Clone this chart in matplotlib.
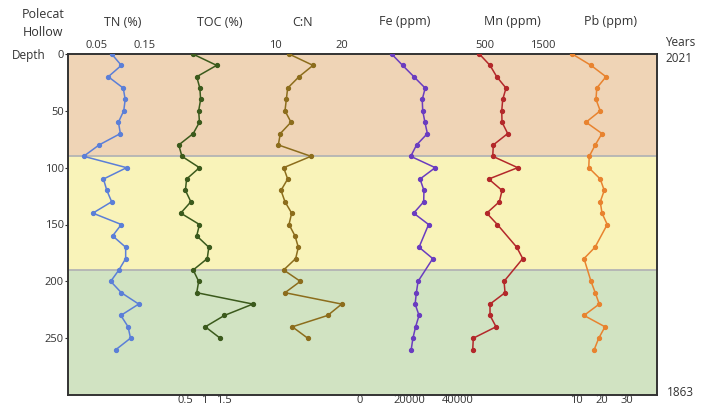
import matplotlib.pyplot as plt
import numpy as np

plt.rcParams['font.family'] = ['Open Sans', 'DejaVu Sans']

# depth (cm) of samples
depth_full = np.arange(0, 270, 10)                      # 0..260
depth_26 = np.arange(0, 260, 10)                        # 0..250
depth_metal = np.array([0, 10, 20, 30, 40, 50, 60, 70, 80, 90, 100, 110, 120,
                        130, 140, 150, 170, 180, 200, 210, 220, 230, 240, 250,
                        260])

tn = [0.081, 0.101, 0.074, 0.105, 0.109, 0.106, 0.095, 0.099, 0.055, 0.023,
      0.112, 0.064, 0.071, 0.081, 0.042, 0.101, 0.083, 0.110, 0.110, 0.096,
      0.079, 0.101, 0.137, 0.100, 0.115, 0.120, 0.090]
toc = [0.70, 1.31, 0.80, 0.88, 0.90, 0.85, 0.87, 0.71, 0.34, 0.42, 0.87, 0.54,
       0.51, 0.65, 0.39, 0.87, 0.80, 1.11, 1.07, 0.71, 0.85, 0.80, 2.24, 1.51,
       1.02, 1.40]
cn = [12.1, 15.7, 13.6, 11.9, 11.7, 11.5, 12.4, 10.8, 10.5, 15.4, 11.3, 11.9,
      10.9, 11.5, 12.5, 12.1, 13.0, 13.5, 13.1, 11.3, 13.8, 11.5, 20.0, 17.9,
      12.6, 14.9]
fe = [12900, 17400, 22000, 26600, 25400, 25600, 26500, 27500, 23100, 20700,
      30700, 24500, 26100, 26000, 21900, 28000, 24100, 29700, 23700, 23000,
      22500, 24100, 22700, 21600, 20900]
mn = [402, 586, 702, 862, 805, 788, 793, 891, 643, 633, 1064, 564, 793, 747,
      529, 712, 1047, 1150, 828, 845, 586, 586, 690, 298, 288]
pb = [8.2, 15.7, 21.7, 18.0, 17.7, 19.4, 13.7, 20.1, 17.4, 15.0, 14.8, 19.4,
      21.0, 19.4, 20.1, 22.2, 17.3, 12.9, 15.7, 17.4, 19.0, 12.9, 21.3, 18.8,
      17.0]

# zones (depth)
zones = [(0, 90, "#efd4b6"), (90, 190, "#f9f3b9"), (190, 300, "#d1e3c2")]

# (name, depths, values, colour, xlim, tick values, tick side, title x)
panels = [
    ("TN (%)", depth_full, tn, "#5b7fd8", (-0.0094, 1.210), [0.05, 0.15], "top", 123),
    ("TOC (%)", depth_26, toc, "#3b5a1c", (-2.5, 12.6), [0.5, 1, 1.5], "bottom", 220),
    ("C:N", depth_26, cn, "#8c6d1c", (-21.03, 67.27), [10, 20], "top", 303),
    ("Fe (ppm)", depth_metal, fe, "#6a3cc0", (-119184, 121224), [0, 20000, 40000], "bottom", 405),
    ("Mn (ppm)", depth_metal, mn, "#b3282a", (-6690, 3465), [500, 1500], "top", 512),
    ("Pb (ppm)", depth_metal, pb, "#e8832f", (-193.5, 42.1), [10, 20, 30], "bottom", 610),
]

W, H = 710, 409
fig = plt.figure(figsize=(W / 100, H / 100), dpi=100)
rect = [68 / W, 1 - 395 / H, (657 - 68) / W, (395 - 54) / H]

ax = fig.add_axes(rect)
for top, bot, col in zones:
    ax.axhspan(top, bot, color=col, lw=0, zorder=0)
for d in (90, 190):
    ax.axhline(d, color="#b4b4b4", lw=1.3, zorder=1)
ax.set_ylim(300, 0)
ax.set_xlim(0, 1)
ax.set_xticks([])
ax.set_yticks([0, 50, 100, 150, 200, 250])
ax.tick_params(axis="y", length=2, pad=1, labelsize=8, colors="#333333")
for s in ax.spines.values():
    s.set_color("#333333")
    s.set_linewidth(1.4)
    s.set_zorder(5)

for name, d, vals, col, xl, ticks, side, tx in panels:
    a = fig.add_axes(rect, frameon=False)
    a.plot(vals, d, color=col, lw=1.1, marker="o", ms=2.8)
    a.set_xlim(*xl)
    a.set_ylim(300, 0)
    a.set_yticks([])
    a.set_xticks(ticks)
    a.set_xticklabels([str(t) for t in ticks])
    if side == "top":
        a.xaxis.tick_top()
        a.tick_params(axis="x", length=0, pad=2, labelsize=8, colors="#333333")
    else:
        a.tick_params(axis="x", length=0, pad=0, labelsize=8, colors="#333333")
    fig.text(tx / W, 1 - 22 / H, name, ha="center", va="center",
             fontsize=9, color="#333333")

fig.text(43 / W, 1 - 15 / H, "Polecat", ha="center", va="center", fontsize=9, color="#333333")
fig.text(43 / W, 1 - 33 / H, "Hollow", ha="center", va="center", fontsize=9, color="#333333")
fig.text(12 / W, 1 - 56 / H, "Depth", ha="left", va="center", fontsize=8.5, color="#333333")
fig.text(665 / W, 1 - 43 / H, "Years", ha="left", va="center", fontsize=8.5, color="#333333")
fig.text(665 / W, 1 - 58 / H, "2021", ha="left", va="center", fontsize=8.5, color="#333333")
fig.text(667 / W, 1 - 393 / H, "1863", ha="left", va="center", fontsize=8.5, color="#333333")

fig.savefig("out.png", dpi=100)
